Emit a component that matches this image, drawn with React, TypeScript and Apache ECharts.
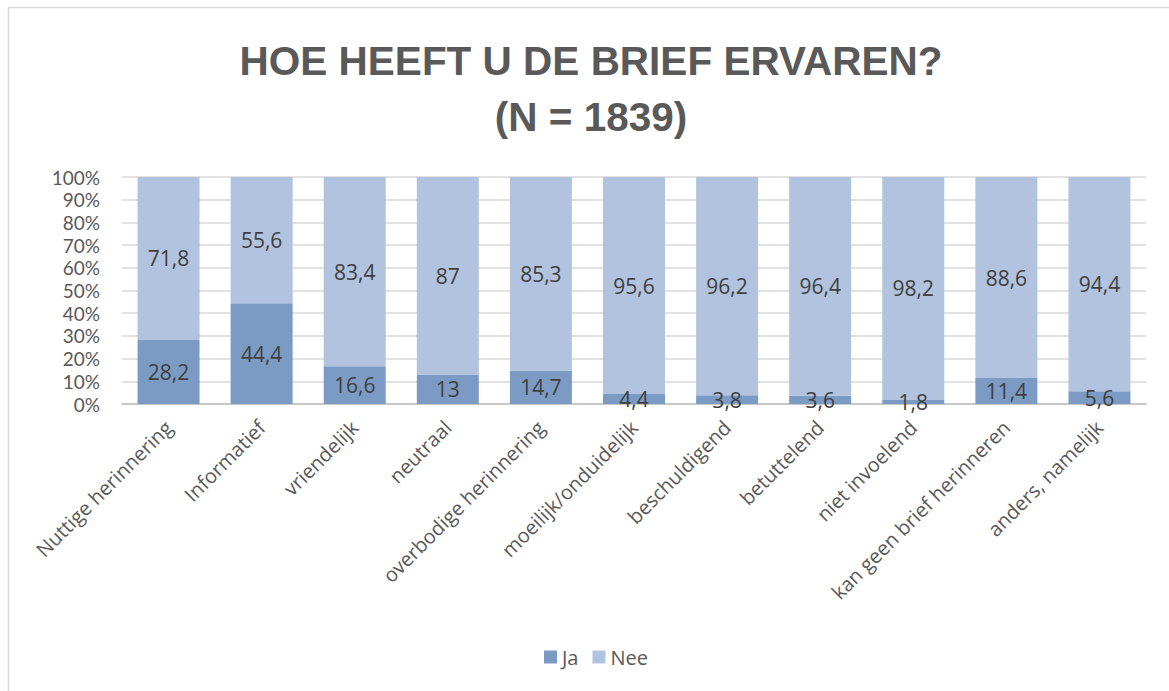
import React, { useEffect, useRef } from "react";
import * as echarts from "echarts";

const categories = [
  "Nuttige herinnering",
  "Informatief",
  "vriendelijk",
  "neutraal",
  "overbodige herinnering",
  "moeilijk/onduidelijk",
  "beschuldigend",
  "betuttelend",
  "niet invoelend",
  "kan geen brief herinneren",
  "anders, namelijk",
];
const ja = [28.2, 44.4, 16.6, 13, 14.7, 4.4, 3.8, 3.6, 1.8, 11.4, 5.6];
const nee = [71.8, 55.6, 83.4, 87, 85.3, 95.6, 96.2, 96.4, 98.2, 88.6, 94.4];
const titleLines = ["HOE HEEFT U DE BRIEF ERVAREN?", "(N = 1839)"];

const FONT = "'Open Sans', 'Noto Sans', sans-serif";
const NARROW = "Lato, 'Open Sans', sans-serif";
const TITLE_FONT = "'Liberation Sans', Arial, sans-serif";

export default function App() {
  const ref = useRef<HTMLDivElement>(null);
  useEffect(() => {
    const chart = echarts.init(ref.current!, null, { renderer: "svg" });
    const fmt = (p: any) => String(p.value).replace(".", ",");
    const label = {
      show: true,
      position: "inside",
      formatter: fmt,
      fontFamily: FONT,
      fontSize: 21,
      lineHeight: 21,
      color: "#404040",
    };
    const titleTops = [38, 94];
    chart.setOption({
      animation: false,
      backgroundColor: "#ffffff",
      textStyle: { fontFamily: FONT },
      title: titleLines.map((t, i) => ({
        text: t,
        left: 591,
        textAlign: "center",
        top: titleTops[i],
        padding: 0,
        textStyle: {
          fontFamily: TITLE_FONT,
          fontSize: 40.5,
          fontWeight: "bold",
          color: "#595959",
          lineHeight: 46,
        },
      })),
      graphic: [
        {
          type: "rect",
          shape: { x: 8.5, y: 7.5, width: 1300, height: 800 },
          style: { fill: "none", stroke: "#d9d9d9", lineWidth: 1.5 },
          silent: true,
          z: -1,
        },
      ],
      legend: {
        data: ["Ja", "Nee"],
        bottom: 19,
        left: 539,
        itemWidth: 13,
        itemHeight: 13,
        itemGap: 14,
        icon: "rect",
        textStyle: { fontFamily: FONT, fontSize: 20, color: "#595959" },
      },
      grid: { left: 122, right: 23, top: 177, bottom: 287, containLabel: false },
      xAxis: {
        type: "category",
        data: categories,
        axisTick: { show: false },
        axisLine: { lineStyle: { color: "#bfbfbf", width: 1.5 } },
        axisLabel: {
          rotate: 45,
          interval: 0,
          fontFamily: FONT,
          fontSize: 20,
          color: "#595959",
          margin: 20,
        },
      },
      yAxis: {
        type: "value",
        min: 0,
        max: 100,
        interval: 10,
        axisLine: { show: false },
        axisTick: { show: false },
        splitLine: { lineStyle: { color: "#d9d9d9", width: 1.5 } },
        axisLabel: {
          formatter: "{value}%",
          fontFamily: NARROW,
          fontSize: 19,
          lineHeight: 19,
          color: "#595959",
          margin: 22,
        },
      },
      series: [
        {
          name: "Ja",
          type: "bar",
          stack: "total",
          data: ja,
          barWidth: 62,
          itemStyle: { color: "#7b9bc4" },
          label,
        },
        {
          name: "Nee",
          type: "bar",
          stack: "total",
          data: nee,
          barWidth: 62,
          itemStyle: { color: "#b1c3de" },
          label,
        },
      ],
    });
    return () => chart.dispose();
  }, []);
  return (
    <div
      ref={ref}
      style={{ position: "fixed", left: 0, top: 0, width: 1169, height: 691 }}
    />
  );
}
